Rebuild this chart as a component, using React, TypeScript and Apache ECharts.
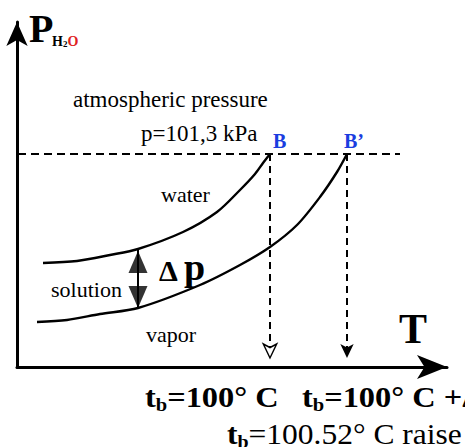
import React, { useEffect, useRef } from "react";
import * as echarts from "echarts";

// Coordinates: T along the horizontal axis, P (vapour pressure of water) along the vertical axis
const waterT = [26, 60, 93, 121, 166, 200, 223, 238, 246, 253];
const waterP = [104, 106, 112, 118, 135, 155, 177, 193, 204, 213];

const solutionT = [20, 50, 83, 121, 183, 223, 253, 280, 303, 320, 330];
const solutionP = [45, 47, 53, 59, 82, 102, 120, 142, 170, 195, 213];

const atmT = [1, 383];
const atmP = 213;

const boilT = [253, 330]; // B and B'
const dropBottomP = 9;

const deltaT = 121;
const deltaTopP = 118;
const deltaBottomP = 59;

const FAM = "'Liberation Serif'";
const f = (size: number, bold = false): any =>
  bold ? { fontSize: size, fontFamily: FAM, fontWeight: "bold" } : { fontSize: size, fontFamily: FAM };

export default function App() {
  const ref = useRef<HTMLDivElement>(null);
  useEffect(() => {
    document.body.style.margin = "0";
    const chart = echarts.init(ref.current!, null, { renderer: "svg" });
    const curve = (T: number[], P: number[]) => T.map((t, i) => [t, P[i]]);
    const lineStyle = { color: "#000", width: 2.4 };
    const txt = (x: number, y: number, text: string, size: number, bold = false, fill = "#000") => ({
      type: "text",
      x,
      y,
      style: { text, ...f(size, bold), fill, verticalAlign: "middle" },
    });
    const subRich = (size: number, subSize: number, mainBold: boolean) => ({
      t: { ...f(size, true), fill: "#000", lineHeight: 34 },
      m: { ...f(size, mainBold), fill: "#000", lineHeight: 34 },
      s: { ...f(subSize, true), fill: "#000", lineHeight: 14, verticalAlign: "bottom" },
    });
    const option: any = {
      animation: false,
      textStyle: { fontFamily: FAM },
      grid: { left: 17, right: 18, top: 22, bottom: 80 },
      xAxis: {
        type: "value",
        min: 0,
        max: 430,
        axisLine: {
          show: true,
          lineStyle: { color: "#000", width: 3 },
          symbol: ["none", "arrow"],
          symbolSize: [18, 30],
        },
        axisTick: { show: false },
        axisLabel: { show: false },
        splitLine: { show: false },
      },
      yAxis: {
        type: "value",
        min: 0,
        max: 345,
        axisLine: {
          show: true,
          lineStyle: { color: "#000", width: 3 },
          symbol: ["none", "arrow"],
          symbolSize: [16, 24],
        },
        axisTick: { show: false },
        axisLabel: { show: false },
        splitLine: { show: false },
      },
      series: [
        {
          name: "water",
          type: "line",
          data: curve(waterT, waterP),
          smooth: 0.3,
          showSymbol: false,
          lineStyle,
        },
        {
          name: "solution",
          type: "line",
          data: curve(solutionT, solutionP),
          smooth: 0.3,
          showSymbol: false,
          lineStyle,
        },
        {
          name: "atmospheric",
          type: "line",
          data: atmT.map((t) => [t, atmP]),
          showSymbol: false,
          lineStyle: { color: "#000", width: 2, type: [8, 5] },
        },
        ...boilT.map((t, k) => ({
          name: "drop" + k,
          type: "line",
          data: [
            { value: [t, atmP], symbol: "none" },
            {
              value: [t, dropBottomP],
              symbol: "arrow",
              symbolRotate: 180,
              symbolSize: [10, 14],
              itemStyle:
                k === 0
                  ? { color: "#fff", borderColor: "#000", borderWidth: 1.5 }
                  : { color: "#000" },
            },
          ],
          showAllSymbol: true,
          lineStyle: { color: "#000", width: 2, type: [7, 5] },
        })),
        {
          name: "deltaP",
          type: "line",
          data: [
            [deltaT, deltaTopP],
            [deltaT, deltaBottomP],
          ],
          showSymbol: false,
          lineStyle: { color: "#000", width: 2 },
        },
        {
          name: "deltaArrows",
          type: "scatter",
          data: [
            { value: [deltaT, deltaTopP - 13], symbolRotate: 0 },
            { value: [deltaT, deltaBottomP + 11], symbolRotate: 180 },
          ],
          symbol: "triangle",
          symbolSize: [19, 22],
          itemStyle: { color: "#000" },
        },
      ],
      graphic: [
        txt(29, 28, "P", 40, true),
        {
          type: "text",
          x: 52,
          y: 41,
          style: {
            text: "{h|H}{s|2}{o|O}",
            verticalAlign: "middle",
            rich: {
              h: { ...f(14, true), fill: "#000", lineHeight: 15 },
              s: { ...f(9, true), fill: "#000", lineHeight: 9, verticalAlign: "bottom" },
              o: { ...f(14, true), fill: "#e02020", lineHeight: 15 },
            },
          },
        },
        txt(73, 99, "atmospheric pressure", 23),
        txt(141, 133, "p=101,3 kPa", 23),
        txt(273, 141, "B", 20, true, "#1a3de0"),
        txt(344, 141, "B\u2019", 20, true, "#1a3de0"),
        txt(161, 194, "water", 22),
        txt(51, 289, "solution", 22),
        txt(146, 334, "vapor", 22),
        txt(159, 270, "\u0394", 30, true),
        txt(184, 267, "p", 38, true),
        txt(399, 329, "T", 42, true),
        {
          type: "text",
          x: 145,
          y: 397,
          scaleX: 1.08,
          style: {
            text: "{t|t}{s|b}{m|=100\u00b0 C}",
            verticalAlign: "middle",
            rich: subRich(30, 19, true),
          },
        },
        {
          type: "text",
          x: 302,
          y: 397,
          scaleX: 1.08,
          style: {
            text: "{t|t}{s|b}{m|=100\u00b0 C +\u0394}",
            verticalAlign: "middle",
            rich: subRich(30, 19, true),
          },
        },
        {
          type: "text",
          x: 227,
          y: 434,
          scaleX: 1.05,
          style: {
            text: "{t|t}{s|b}{m|=100.52\u00b0 C raise}",
            verticalAlign: "middle",
            rich: subRich(30, 19, false),
          },
        },
      ],
    };
    chart.setOption(option);
    return () => chart.dispose();
  }, []);
  return <div ref={ref} style={{ width: 465, height: 447 }} />;
}
